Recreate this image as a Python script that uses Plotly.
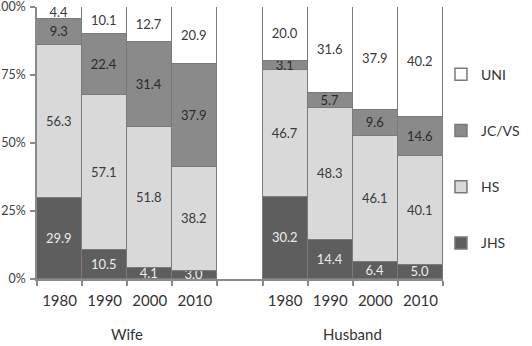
import plotly.graph_objects as go

years = ["1980", "1990", "2000", "2010"]
groups = ["Wife", "Husband"]
series = ["JHS", "HS", "JC/VS", "UNI"]
ytick_vals = [0, 25, 50, 75, 100]
ytick_text = ["0%", "25%", "50%", "75%", "100%"]

wife_jhs = [29.9, 10.5, 4.1, 3.0]
wife_hs = [56.3, 57.1, 51.8, 38.2]
wife_jcvs = [9.3, 22.4, 31.4, 37.9]
wife_uni = [4.4, 10.1, 12.7, 20.9]

husband_jhs = [30.2, 14.4, 6.4, 5.0]
husband_hs = [46.7, 48.3, 46.1, 40.1]
husband_jcvs = [3.1, 5.7, 9.6, 14.6]
husband_uni = [20.0, 31.6, 37.9, 40.2]

colors = {"JHS": "#5e5e5e", "HS": "#d9d9d9", "JC/VS": "#8a8a8a", "UNI": "#ffffff"}
textcolors = {"JHS": "#ececec", "HS": "#3a3a3a", "JC/VS": "#2a2a2a", "UNI": "#3a3a3a"}
ranks = {"UNI": 1, "JC/VS": 2, "HS": 3, "JHS": 4}

wife = {"JHS": wife_jhs, "HS": wife_hs, "JC/VS": wife_jcvs, "UNI": wife_uni}
husband = {"JHS": husband_jhs, "HS": husband_hs, "JC/VS": husband_jcvs, "UNI": husband_uni}

# numeric positions: wife 0..3, gap at 4, husband 5..8
xpos = [0, 1, 2, 3, 5, 6, 7, 8]
FONT = "Lato, Open Sans, sans-serif"

fig = go.Figure()
for s in series:
    vals = wife[s] + husband[s]
    fig.add_trace(go.Bar(
        x=xpos, y=vals, name=s, width=1,
        marker=dict(color=colors[s], line=dict(color="#7a7a7a", width=1.5)),
        text=[f"{v:.1f}" for v in vals],
        textposition="inside", insidetextanchor="middle", textangle=0,
        constraintext="none", cliponaxis=True,
        textfont=dict(family=FONT, size=13, color=textcolors[s]),
        legendgroup=s, legendrank=ranks[s],
    ))

boundaries = [-0.5, 0.5, 1.5, 2.5, 3.5, 4.5, 5.5, 6.5, 7.5, 8.5]

fig.update_layout(
    width=532, height=346,
    margin=dict(l=37, r=73, t=7, b=67),
    barmode="stack", bargap=0,
    plot_bgcolor="white", paper_bgcolor="white",
    font=dict(family=FONT, color="#404040"),
    xaxis=dict(
        range=[-0.5, 8.5], tickmode="array", tickvals=xpos, ticktext=years + years,
        ticks="", showline=True, linecolor="#8a8a8a", linewidth=1.5,
        tickfont=dict(size=15, color="#333333"), showgrid=False, zeroline=False,
        ticklabelstandoff=7,
        minor=dict(tickmode="array", tickvals=boundaries, ticks="outside",
                   ticklen=5, tickcolor="#8a8a8a", tickwidth=1.5, showgrid=False),
    ),
    yaxis=dict(
        range=[0, 100], tickmode="array", tickvals=ytick_vals, ticktext=ytick_text,
        ticks="outside", ticklen=5, tickcolor="#8a8a8a", tickwidth=1.5,
        showline=True, linecolor="#8a8a8a", linewidth=1.5, showgrid=False,
        zeroline=False, automargin=False, ticklabeloverflow="allow",
        ticklabelstandoff=2,
        tickfont=dict(size=12.5, color="#404040"),
    ),
    legend=dict(
        traceorder="grouped", tracegroupgap=35,
        x=0.995, xanchor="left", y=0.81, yanchor="top",
        font=dict(size=14, color="#333333"), bgcolor="rgba(0,0,0,0)",
    ),
    showlegend=True,
)

for g, xc in zip(groups, [1.5, 6.5]):
    fig.add_annotation(text=g, x=xc, xref="x", y=0, yref="paper", yshift=-55,
                       yanchor="middle", showarrow=False,
                       font=dict(family=FONT, size=15, color="#333333"))

fig.write_html("out.html")
